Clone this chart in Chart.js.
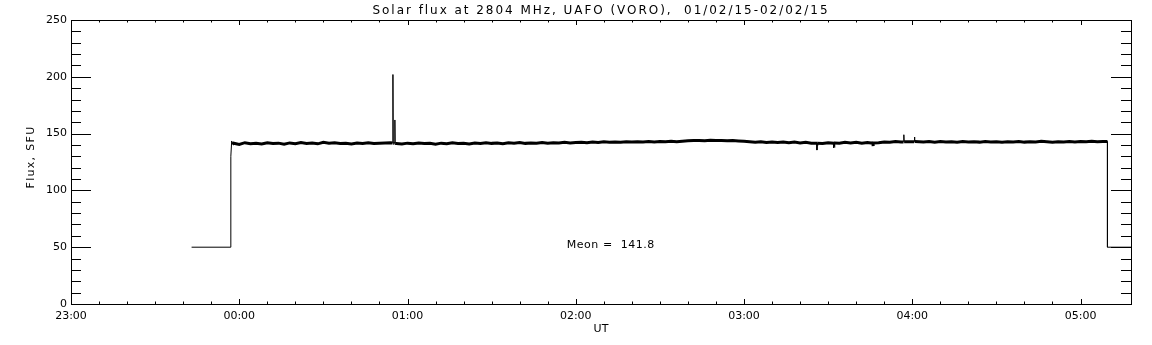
<!DOCTYPE html>
<html>
<head>
<meta charset="utf-8">
<script src="https://cdn.jsdelivr.net/npm/chart.js@4"></script>
<style>
  html, body { margin: 0; padding: 0; background: #fff; }
  canvas { display: block; }
</style>
</head>
<body>
<canvas id="fluxChart" width="1152" height="345" style="width:1152px;height:345px"></canvas>
<script>
// x axis = minutes after 23:00 UT
const xMin = 0, xMax = 378;
const yMin = 0, yMax = 250;
const xTickLabels = ['23:00', '00:00', '01:00', '02:00', '03:00', '04:00', '05:00'];
const yTickLabels = ['0', '50', '100', '150', '200', '250'];

// calibration step at start (minute, SFU)
const startTimes = [43, 57, 57, 57.3, 57.6];
const startFlux  = [50, 50, 130, 143.5, 140.5];

// 2-minute samples
const segA0 = 58;
const segA = [141.5,140.5,142,141,141.5,140.8,142,141.2,141.6,140.6,141.8,141,142.2,141.3,141.7,141,142.4,141.5,142,141.2,141.6,140.9,141.8,141.3,142,141.2,141.5,141.8,142];

const segB0 = 116;
const segB = [141.2,140.8,141.6,141,141.8,141.2,141.4,140.7,141.6,141.1,141.9,141.3,141.5,140.9,141.7,141.2,142,141.4,141.8,141.1,141.9,141.5,142.1,141.4,141.8,141.6,142.2,141.5,142,141.7,142.3,141.8,142.2];

const segC0 = 182;
const segC = [142.4,142,142.6,142.2,142.8,142.3,142.7,142.4,142.9,142.5,142.8,142.6,143,142.7,143.1,142.8,143.2,142.9,143.3,143.6,143.9,144,143.8,144.1,143.9,144,143.7,143.9,143.5,143.2];

const segD0 = 242;
const segD = [142.8,142.4,142.9,142.2,142.6,142.1,142.7,142,142.5,141.8,142.3,141.6,141.4,141.2,142,141.3,141.6,142.3,141.8,142.4,141.5,142.2,141.4,141.9,142.6,142.3,143,142.7];

const segE0 = 304;
const segE = [142.6,143,142.5,143.1,142.7,142.9,142.4,143,142.6,142.8,142.5,143.1,142.7,142.9,142.4,142.8,142.6,143,142.5,142.9,142.7,143.2,142.8,142.4,142.9,142.6,143,142.7,143.1,142.8,143.2,142.9,143];

// short excursions (burst near 00:55, dips near 03:27, spikes near 04:00)
const spikeTimes = [114.7, 114.8, 114.9, 115.4, 115.5, 115.6,
                    265.9, 266, 266.1, 271.9, 272, 272.1, 285.9, 286, 286.1,
                    296.9, 297, 297.1, 300.7, 300.8, 300.9];
const spikeFlux  = [141.8, 202, 141.6, 141.4, 162, 141.3,
                    141.5, 135.5, 141.4, 141.6, 137.5, 141.8, 141.6, 139, 141.7,
                    142.6, 149, 142.9, 142.8, 147, 143];

// calibration step at end
const endTimes = [369.6, 369.6, 378];
const endFlux  = [143, 50, 50];

const meanFlux = 141.8;
const meanLabelAt = [176.8, 49.3];

let points = [];
function addPairs(ts, vs) { ts.forEach((t, i) => points.push({ x: t, y: vs[i] })); }
function addSeg(t0, vs) { vs.forEach((v, i) => points.push({ x: t0 + 2 * i, y: v })); }
addPairs(startTimes, startFlux);
addSeg(segA0, segA);
addSeg(segB0, segB);
addSeg(segC0, segC);
addSeg(segD0, segD);
addSeg(segE0, segE);
addPairs(spikeTimes, spikeFlux);
addPairs(endTimes, endFlux);
points = points.map((p, i) => ({ ...p, i })).sort((a, b) => a.x - b.x || a.i - b.i);

Chart.defaults.font.family = "'DejaVu Sans', sans-serif";
Chart.defaults.font.size = 11;
Chart.defaults.color = '#000';

// draw text stretched to a given width (IDL font is wide)
function fitText(ctx, text, left, base, width) {
  ctx.letterSpacing = '0px';
  const w = ctx.measureText(text).width;
  ctx.letterSpacing = ((width - w) / text.length) + 'px';
  ctx.fillText(text, left, base);
  ctx.letterSpacing = '0px';
}

const idlFrame = {
  id: 'idlFrame',
  afterDraw(chart) {
    const { ctx, chartArea: a, scales: { x, y } } = chart;
    ctx.save();
    ctx.strokeStyle = '#000';
    ctx.lineWidth = 1;
    ctx.strokeRect(a.left + 0.5, a.top + 0.5, a.right - a.left, a.bottom - a.top);
    ctx.beginPath();
    y.ticks.forEach(t => {
      const py = Math.round(y.getPixelForValue(t.value)) + 0.5;
      const len = t.value % 50 === 0 ? 20 : 10;
      ctx.moveTo(a.left, py); ctx.lineTo(a.left + len, py);
      ctx.moveTo(a.right, py); ctx.lineTo(a.right - len, py);
    });
    x.ticks.forEach(t => {
      const px = Math.round(x.getPixelForValue(t.value)) + 0.5;
      const len = t.value % 60 === 0 ? 5 : 2.5;
      ctx.moveTo(px, a.bottom); ctx.lineTo(px, a.bottom - len);
      ctx.moveTo(px, a.top); ctx.lineTo(px, a.top + len);
    });
    ctx.stroke();

    ctx.fillStyle = '#000';
    ctx.font = "12px 'DejaVu Sans'";
    ctx.textAlign = 'left';
    ctx.textBaseline = 'alphabetic';
    const title = 'Solar flux at 2804 MHz, UAFO (VORO),  01/02/15-02/02/15';
    const cx = (a.left + a.right) / 2;
    fitText(ctx, title, cx - 228.5, 14, 457);

    ctx.font = "11px 'DejaVu Sans'";
    fitText(ctx, 'Meon =  ' + meanFlux.toFixed(1),
      x.getPixelForValue(meanLabelAt[0]), y.getPixelForValue(meanLabelAt[1]), 88);

    ctx.textAlign = 'center';
    ctx.fillText('UT', cx, 332);

    ctx.save();
    ctx.translate(34, 157);
    ctx.rotate(-Math.PI / 2);
    ctx.textAlign = 'left';
    fitText(ctx, 'Flux, SFU', -31.5, 0, 63);
    ctx.restore();
    ctx.restore();
  }
};

new Chart(document.getElementById('fluxChart').getContext('2d'), {
  type: 'line',
  data: {
    datasets: [{
      data: points,
      borderColor: '#000',
      borderWidth: 3,
      pointRadius: 0,
      tension: 0,
      segment: {
        borderWidth: c => (c.p0.parsed.y > 120 && c.p1.parsed.y > 120 &&
          Math.abs(c.p0.parsed.y - c.p1.parsed.y) < 3) ? 3 : 1
      }
    }]
  },
  options: {
    responsive: false,
    animation: false,
    devicePixelRatio: 1,
    layout: { padding: { top: 20, right: 21, left: 0, bottom: 0 } },
    plugins: { legend: { display: false }, tooltip: { enabled: false } },
    scales: {
      x: {
        type: 'linear',
        min: xMin, max: xMax,
        afterFit: s => { s.height = 41; },
        grid: { display: false, drawTicks: false },
        border: { display: false },
        ticks: {
          stepSize: 10,
          autoSkip: false,
          maxRotation: 0,
          padding: 6,
          callback: v => v % 60 === 0 ? xTickLabels[v / 60] : ''
        }
      },
      y: {
        min: yMin, max: yMax,
        afterFit: s => { s.width = 71; },
        grid: { display: false, drawTicks: false },
        border: { display: false },
        ticks: {
          stepSize: 10,
          autoSkip: false,
          padding: 4,
          callback: v => v % 50 === 0 ? yTickLabels[v / 50] : ''
        }
      }
    }
  },
  plugins: [idlFrame]
});
</script>
</body>
</html>
